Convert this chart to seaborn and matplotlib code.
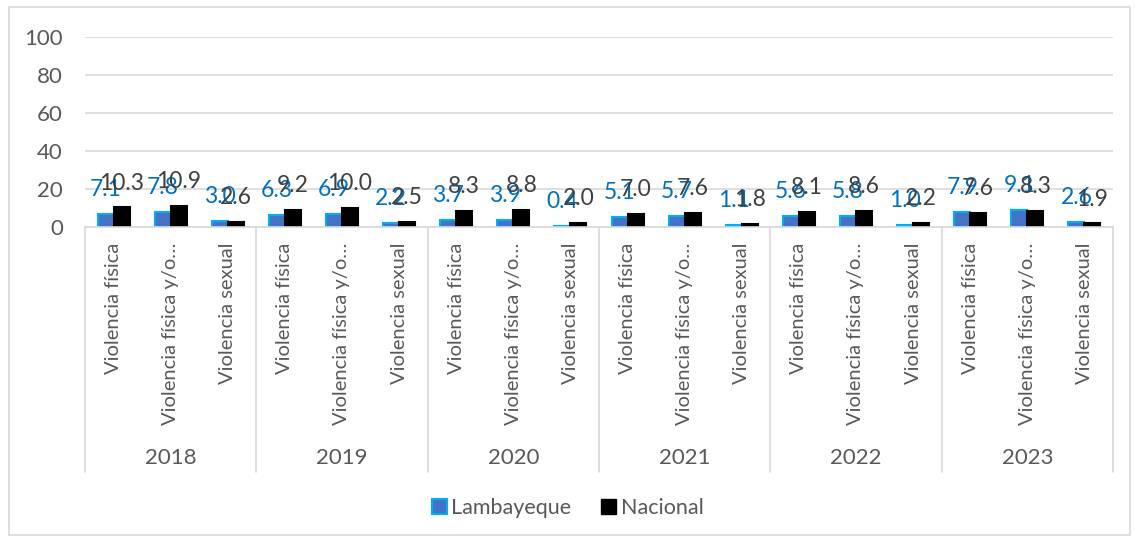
import matplotlib
matplotlib.use("Agg")
import matplotlib.pyplot as plt
import matplotlib.transforms as mtransforms
from matplotlib.patches import Rectangle
import numpy as np
import pandas as pd
import seaborn as sns

# Data
years = ["2018", "2019", "2020", "2021", "2022", "2023"]
categories = ["Violencia física", "Violencia física y/o…", "Violencia sexual"]
lambayeque = [7.1, 7.8, 3.0, 6.3, 6.9, 2.2, 3.7, 3.9, 0.4,
              5.1, 5.7, 1.1, 5.6, 5.8, 1.0, 7.9, 9.1, 2.6]
nacional = [10.3, 10.9, 2.6, 9.2, 10.0, 2.5, 8.3, 8.8, 2.0,
            7.0, 7.6, 1.8, 8.1, 8.6, 2.2, 7.6, 8.3, 1.9]
series = ["Lambayeque", "Nacional"]
yticks = [0, 20, 40, 60, 80, 100]

n = len(lambayeque)
pos = list(range(n))
df = pd.DataFrame({
    "pos": pos * 2,
    "valor": lambayeque + nacional,
    "serie": [series[0]] * n + [series[1]] * n,
})

sns.set_style("white")
plt.rcParams["font.family"] = ["Lato", "DejaVu Sans"]

fig = plt.figure(figsize=(11.35, 5.4), dpi=100)
ax = fig.add_axes([85 / 1135, 1 - 227 / 540, (1113 - 85) / 1135, (227 - 37) / 540])

palette = {"Lambayeque": "#4472C4", "Nacional": "#000000"}
sns.barplot(data=df, x="pos", y="valor", hue="serie", palette=palette,
            width=0.56, dodge=True, ax=ax, legend=False, saturation=1)

# edges like the Excel original
for bar_container, edge in zip(ax.containers, ["#00B0F0", "#000000"]):
    for p in bar_container:
        p.set_edgecolor(edge)
        p.set_linewidth(1.5)

# data labels
label_colors = ["#0070C0", "#404040"]
for bar_container, col in zip(ax.containers, label_colors):
    for p in bar_container:
        h = p.get_height()
        ax.annotate(f"{h:.1f}", (p.get_x() + p.get_width() / 2, h),
                    xytext=(0, 10), textcoords="offset points",
                    ha="center", va="bottom", fontsize=16.5, color=col,
                    annotation_clip=False)

ax.set_ylim(0, 100)
ax.set_xlim(-0.5, n - 0.5)
ax.set_yticks(yticks)
ax.set_yticklabels([str(t) for t in yticks], fontsize=16, color="#595959")
ax.yaxis.grid(True, color="#D9D9D9", linewidth=1.2)
ax.set_axisbelow(True)
ax.tick_params(axis="y", length=0, pad=16)
ax.set_xlabel("")
ax.set_ylabel("")
for s in ["top", "right", "left"]:
    ax.spines[s].set_visible(False)
ax.spines["bottom"].set_color("#D9D9D9")
ax.spines["bottom"].set_linewidth(1.2)

# category labels (rotated)
ax.set_xticks(pos)
ax.set_xticklabels(categories * len(years), rotation=90, fontsize=14.5,
                   color="#595959", va="top")
ax.tick_params(axis="x", length=0, pad=11)

# year labels and group separators
trans = mtransforms.blended_transform_factory(ax.transData, fig.transFigure)
for g, yr in enumerate(years):
    ax.text(g * 3 + 1, 1 - 458 / 540, yr, transform=trans, ha="center",
            va="center", fontsize=16, color="#595959")
for g in range(len(years) + 1):
    ax.plot([g * 3 - 0.5, g * 3 - 0.5], [1 - 227 / 540, 1 - 472 / 540],
            transform=trans, color="#D9D9D9", linewidth=1.2, clip_on=False)

# legend
handles = [Rectangle((0, 0), 1, 1, facecolor="#4472C4", edgecolor="#00B0F0", linewidth=1.5),
           Rectangle((0, 0), 1, 1, facecolor="#000000", edgecolor="#000000")]
fig.legend(handles, series, loc="center", bbox_to_anchor=(0.5, 1 - 508 / 540),
           ncol=2, frameon=False, fontsize=15.5, handlelength=0.7, handleheight=0.7,
           handletextpad=0.2, columnspacing=1.4, labelcolor="#595959")

# outer chart border
fig.patches.append(Rectangle((9 / 1135, 5 / 540), 1121 / 1135, 528 / 540,
                             transform=fig.transFigure, fill=False,
                             edgecolor="#D9D9D9", linewidth=1.2))

fig.savefig("out.png", dpi=100)
